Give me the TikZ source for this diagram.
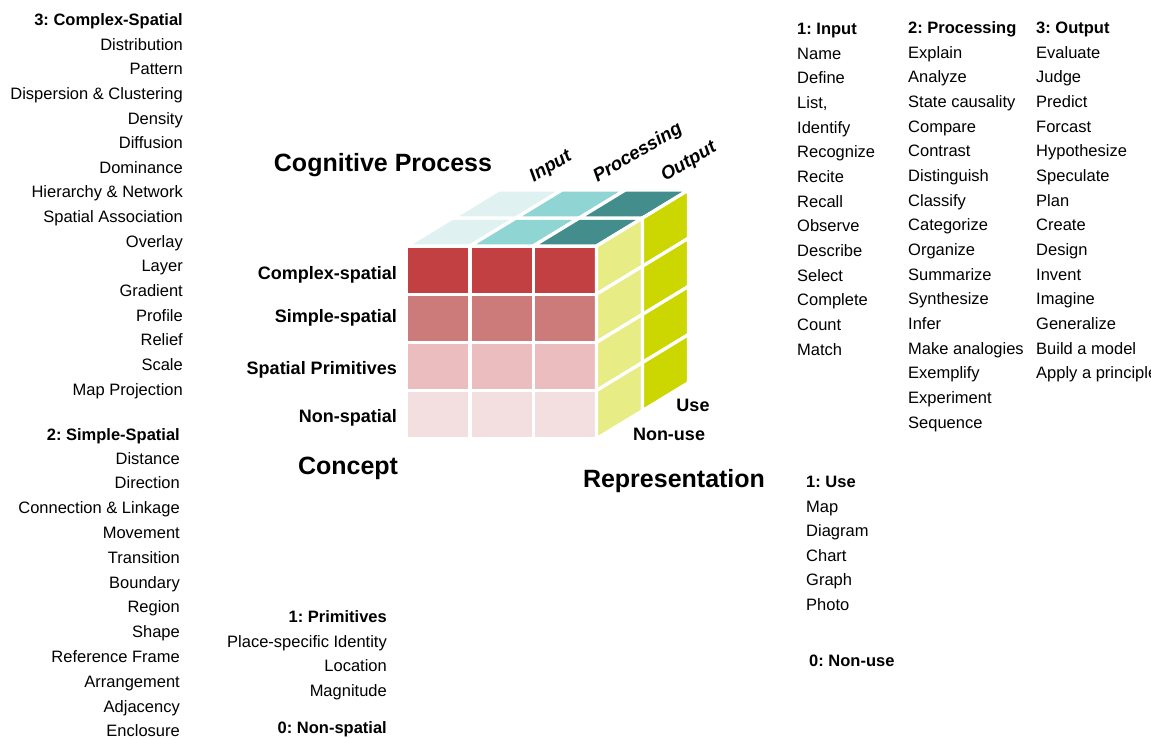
\documentclass[tikz,border=0pt]{standalone}
\usepackage{fontspec}
\setmainfont{Liberation Sans}
\frenchspacing
\definecolor{cRa}{HTML}{C24041}
\definecolor{cRb}{HTML}{CC7B7A}
\definecolor{cRc}{HTML}{EBBDBE}
\definecolor{cRd}{HTML}{F3DFDF}
\definecolor{cTa}{HTML}{E0F1F1}
\definecolor{cTb}{HTML}{8FD5D3}
\definecolor{cTc}{HTML}{438E8C}
\definecolor{cYa}{HTML}{E8EC85}
\definecolor{cYb}{HTML}{CCD600}
\tikzset{
  cell/.style={draw=white, line width=3.3pt, line join=miter},
  item/.style={inner sep=0pt, font=\fontsize{16.5}{18}\selectfont},
  head/.style={inner sep=0pt, font=\fontsize{16.5}{18}\selectfont\bfseries},
  rowlab/.style={inner sep=0pt, font=\fontsize{18}{20}\selectfont\bfseries},
  biglab/.style={inner sep=0pt, font=\fontsize{25}{28}\selectfont\bfseries},
  axlab/.style={inner sep=0pt, rotate=31, font=\fontsize{18.5}{20}\selectfont\bfseries\itshape},
}
\begin{document}
\begin{tikzpicture}[x=1pt,y=-1pt]
\useasboundingbox (0,0) rectangle (1151,737);
\clip (0,0) rectangle (1151,737);
% ---------- cube ----------
\begin{scope}[shift={(406.6pt,-246pt)}, x={(63.33pt,0pt)}, y={(0pt,-48.15pt)}, z={(46pt,28pt)}]
  % front face
  \foreach \j/\c in {0/cRa,1/cRb,2/cRc,3/cRd}{
    \foreach \i in {0,1,2}{
      \filldraw[cell, fill=\c] (\i,\j,0) -- (\i+1,\j,0) -- (\i+1,\j+1,0) -- (\i,\j+1,0) -- cycle;
    }
  }
  % top face
  \foreach \i/\c in {0/cTa,1/cTb,2/cTc}{
    \foreach \k in {0,1}{
      \filldraw[cell, fill=\c] (\i,0,\k) -- (\i+1,0,\k) -- (\i+1,0,\k+1) -- (\i,0,\k+1) -- cycle;
    }
  }
  % side face
  \foreach \k/\c in {0/cYa,1/cYb}{
    \foreach \j in {0,1,2,3}{
      \filldraw[cell, fill=\c] (3,\j,\k) -- (3,\j,\k+1) -- (3,\j+1,\k+1) -- (3,\j+1,\k) -- cycle;
    }
  }
\end{scope}
% ---------- cube labels ----------
\node[biglab] (cogproc) at (383,165) {Cognitive Process};
\node[biglab] (concept) at (348,468) {Concept};
\node[biglab] (repres) at (674,481) {Representation};
\node[axlab] (axin) at (551,167) {Input};
\node[axlab] (axproc) at (638,153) {Processing};
\node[axlab] (axout) at (689,162) {Output};
\node[rowlab, anchor=mid east] (rcomplex) at (397,276.5) {Complex-spatial};
\node[rowlab, anchor=mid east] (rsimple) at (397,319.5) {Simple-spatial};
\node[rowlab, anchor=mid east] (rprim) at (397,372) {Spatial Primitives};
\node[rowlab, anchor=mid east] (rnon) at (397,419.5) {Non-spatial};
\node[rowlab] (use) at (693,405.5) {Use};
\node[rowlab] (nonuse) at (669,434.5) {Non-use};
% ---------- left list 1 ----------
\node[head, anchor=mid east] (hcomplex) at (183,22.5) {3: Complex-Spatial};
\foreach \t [count=\n from 0] in {Distribution, Pattern, Dispersion \& Clustering, Density, Diffusion, Dominance, Hierarchy \& Network, Spatial Association, Overlay, Layer, Gradient, Profile, Relief, Scale, Map Projection}{
  \node[item, anchor=mid east] (lc\n) at (183,47.5+24.64*\n) {\t};
}
% ---------- left list 2 ----------
\node[head, anchor=mid east] (hsimple) at (180,437.5) {2: Simple-Spatial};
\foreach \t [count=\n from 0] in {Distance, Direction, Connection \& Linkage, Movement, Transition, Boundary, Region, Shape, Reference Frame, Arrangement, Adjacency, Enclosure}{
  \node[item, anchor=mid east] (ls\n) at (180,461.5+24.8*\n) {\t};
}
% ---------- bottom middle ----------
\node[head, anchor=mid east] (hprim) at (387,619.5) {1: Primitives};
\node[item, anchor=mid east] (p1) at (387,644.5) {Place-specific Identity};
\node[item, anchor=mid east] (p2) at (387,669) {Location};
\node[item, anchor=mid east] (p3) at (387,693.5) {Magnitude};
\node[head, anchor=mid east] (hnonsp) at (387,730.5) {0: Non-spatial};
% ---------- right lower ----------
\node[head, anchor=mid west] (huse) at (806,484.5) {1: Use};
\foreach \t [count=\n from 0] in {Map, Diagram, Chart, Graph, Photo}{
  \node[item, anchor=mid west] (u\n) at (806,509.5+24.6*\n) {\t};
}
\node[head, anchor=mid west] (hnonuse) at (809,663.5) {0: Non-use};
% ---------- right top columns ----------
\node[head, anchor=mid west] (hin) at (797,31.5) {1: Input};
\foreach \t [count=\n from 0] in {Name, Define, {List,}, Identify, Recognize, Recite, Recall, Observe, Describe, Select, Complete, Count, Match}{
  \node[item, anchor=mid west] (in\n) at (797,56.5+24.67*\n) {\t};
}
\node[head, anchor=mid west] (hproc) at (908,30.5) {2: Processing};
\foreach \t [count=\n from 0] in {Explain, Analyze, State causality, Compare, Contrast, Distinguish, Classify, Categorize, Organize, Summarize, Synthesize, Infer, Make analogies, Exemplify, Experiment, Sequence}{
  \node[item, anchor=mid west] (pr\n) at (908,55.5+24.67*\n) {\t};
}
\node[head, anchor=mid west] (hout) at (1036,30.5) {3: Output};
\foreach \t [count=\n from 0] in {Evaluate, Judge, Predict, Forcast, Hypothesize, Speculate, Plan, Create, Design, Invent, Imagine, Generalize, Build a model, Apply a principle}{
  \node[item, anchor=mid west] (ou\n) at (1036,55.5+24.67*\n) {\t};
}
\end{tikzpicture}
\end{document}
